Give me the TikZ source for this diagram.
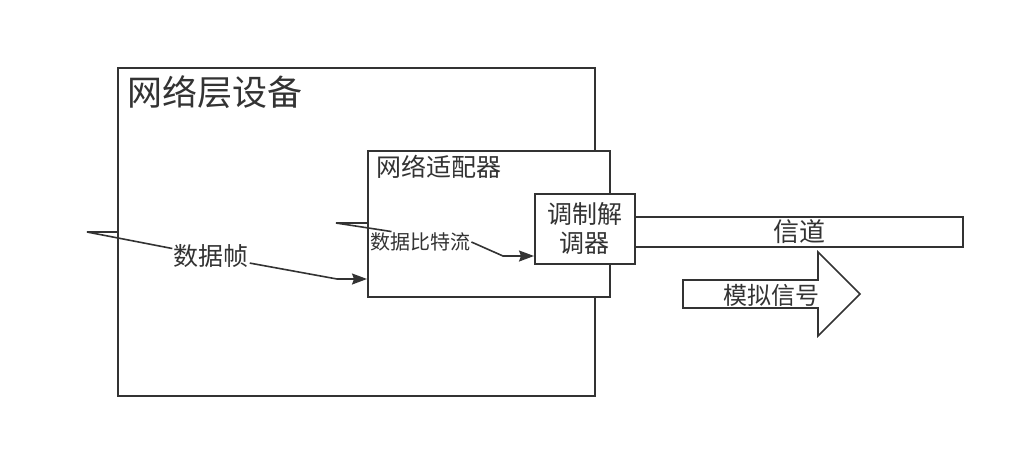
\documentclass[tikz,border=0pt]{standalone}
\usepackage{fontspec}
\setmainfont{Noto Sans CJK SC}
\usetikzlibrary{arrows.meta}
\definecolor{ink}{HTML}{333333}
\tikzset{
  box/.style = {draw=ink, line width=1.6pt, fill=white, inner sep=0pt, anchor=north west},
  lbl/.style = {text=ink, inner sep=1pt, fill=white},
  link/.style = {draw=ink, line width=1.6pt, -{Stealth[length=15pt,width=11pt,inset=2pt]}},
}
\newcommand{\fs}[1]{\fontsize{#1}{#1}\selectfont}
\begin{document}
\begin{tikzpicture}[x=1pt, y=-1pt]
\useasboundingbox (0,0) rectangle (1023,458);
% outer device and adapter
\node [box, minimum width=477pt, minimum height=328pt] (device) at (117,67) {};
\node [lbl, anchor=west, font=\fs{35}] (devtitle) at (126,92) {网络层设备};
\node [box, minimum width=242pt, minimum height=146pt] (adapter) at (367,150) {};
\node [lbl, anchor=west, font=\fs{25}] (adtitle) at (375,167) {网络适配器};
% channel and modem
\node [box, minimum width=328pt, minimum height=30pt] (channel) at (634,216) {};
\node [lbl, fill=none, font=\fs{26}] (chtext) at (799,232) {信道};
\node [box, minimum width=100pt, minimum height=70pt, align=center, font=\fs{25}, text=ink,
       execute at begin node={\baselineskip=29pt}] (modem) at (534,193) {调制解\\调器};
% analog signal arrow
\draw [draw=ink, line width=1.6pt] (683,280) -- (818,280) -- (818,252) -- (860,294)
  -- (818,336) -- (818,308) -- (683,308) -- cycle;
\node [lbl, fill=none, font=\fs{24}] (analog) at (771,295) {模拟信号};
% frames into the adapter
\coordinate (fstart) at (87,232);
\coordinate (fbend) at (337,279);
\node [lbl, font=\fs{25}] (frames) at (211,256) {数据帧};
\draw [link] (fstart -| device.west) -- (fstart) -- (frames) -- (fbend) -- (fbend -| adapter.west);
% bit stream into the modem
\coordinate (bstart) at (336,223);
\coordinate (bbend) at (503,256);
\node [lbl, anchor=west, font=\fs{20}] (bits) at (369,242) {数据比特流};
\draw [link] (bstart -| adapter.west) -- (bstart) -- (bits.160) (bits.east) -- (bbend) -- (bbend -| modem.west);
\end{tikzpicture}
\end{document}
